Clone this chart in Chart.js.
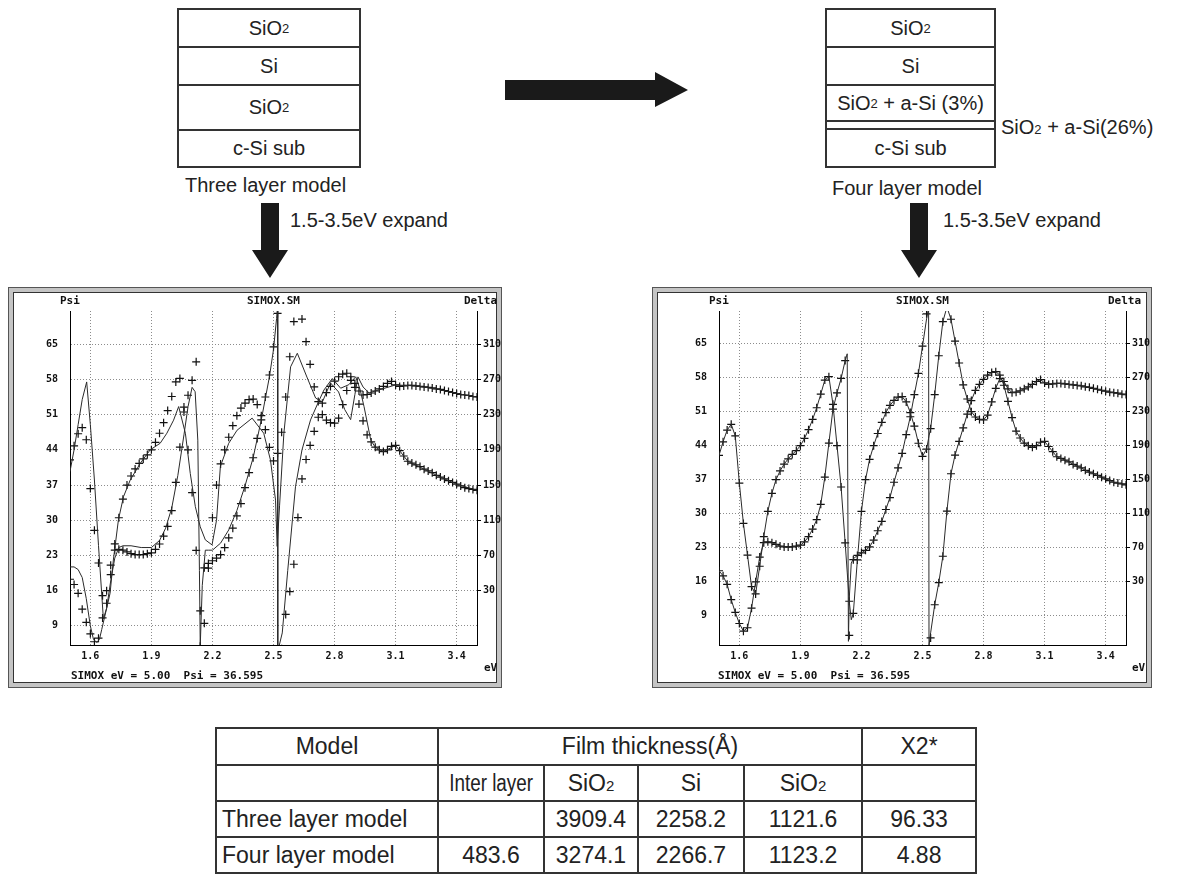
<!DOCTYPE html>
<html>
<head>
<meta charset="utf-8">
<script src="https://cdn.jsdelivr.net/npm/chart.js@4.4.0/dist/chart.umd.min.js"></script>
<style>
body { margin:0; background:#fff; width:1189px; height:879px; position:relative; overflow:hidden;
       font-family:"Liberation Sans", Arial, sans-serif; color:#222; }
.layer { position:absolute; box-sizing:border-box; border:2px solid #333; font-size:20px;
         display:flex; align-items:center; justify-content:center; white-space:nowrap; }
.sub { font-size:13px; }
.cap { position:absolute; font-size:20px; white-space:nowrap; line-height:22px; }
.frame { position:absolute; box-sizing:border-box; border:1px solid #555; background:#c4c4c4; }
.frame .inner { position:absolute; left:4px; top:4px; right:4px; bottom:4px; border:1px solid #333; background:#fff; }
.scr { position:absolute; font-family:"DejaVu Sans Mono", monospace; font-weight:bold; font-size:11px;
       color:#111; white-space:pre; line-height:13px; }
canvas { position:absolute; }
table { position:absolute; border-collapse:collapse; table-layout:fixed; width:760px;
        font-family:"Liberation Sans Narrow","Arial Narrow","Liberation Sans",sans-serif; font-size:23px; color:#222; }
td { border:2px solid #333; text-align:center; padding:0; white-space:nowrap; }
td.l { text-align:left; padding-left:5px; }
td .sub { font-size:15px; }
.squeeze { display:inline-block; transform:scaleX(0.82); }
</style>
</head>
<body>

<!-- layer stacks -->
<div class="layer" style="left:177px;top:8px;width:184px;height:40px">SiO<span class="sub">2</span></div>
<div class="layer" style="left:177px;top:46px;width:184px;height:40px">Si</div>
<div class="layer" style="left:177px;top:84px;width:184px;height:47px">SiO<span class="sub">2</span></div>
<div class="layer" style="left:177px;top:129px;width:184px;height:39px">c-Si sub</div>
<div class="cap" style="left:185px;top:174px">Three layer model</div>

<div class="layer" style="left:825px;top:8px;width:171px;height:40px">SiO<span class="sub">2</span></div>
<div class="layer" style="left:825px;top:46px;width:171px;height:40px">Si</div>
<div class="layer" style="left:825px;top:84px;width:171px;height:38px">SiO<span class="sub">2</span>&nbsp;+ a-Si (3%)</div>
<div class="layer" style="left:825px;top:120px;width:171px;height:10px"></div>
<div class="layer" style="left:825px;top:128px;width:171px;height:40px">c-Si sub</div>
<div class="cap" style="left:1001px;top:116px">SiO<span class="sub">2</span>&nbsp;+ a-Si(26%)</div>
<div class="cap" style="left:832px;top:177px">Four layer model</div>

<svg style="position:absolute;left:0;top:0" width="1189" height="300">
  <polygon points="505,80 655,80 655,72 688,90 655,107 655,100 505,100" fill="#1a1a1a"/>
  <polygon points="261,203 279,203 279,250 288,250 270,278 252,250 261,250" fill="#1a1a1a"/>
  <polygon points="910,203 928,203 928,250 937,250 919,278 901,250 910,250" fill="#1a1a1a"/>
</svg>
<div class="cap" style="left:290px;top:209px">1.5-3.5eV expand</div>
<div class="cap" style="left:943px;top:209px">1.5-3.5eV expand</div>

<!-- spectra -->
<div class="frame" style="left:8px;top:287px;width:494px;height:401px"><div class="inner"></div></div>
<canvas id="chartThree" width="494" height="401" style="left:8px;top:287px"></canvas>
<div class="scr" style="left:60px;top:294px">Psi</div>
<div class="scr" style="left:247px;top:294px">SIMOX.SM</div>
<div class="scr" style="left:464px;top:294px">Delta</div>
<div class="scr" style="left:484px;top:661px">eV</div>
<div class="scr" style="left:71px;top:669px">SIMOX eV = 5.00  Psi = 36.595</div>

<div class="frame" style="left:652px;top:287px;width:500px;height:401px"><div class="inner"></div></div>
<canvas id="chartFour" width="500" height="401" style="left:652px;top:287px"></canvas>
<div class="scr" style="left:709px;top:294px">Psi</div>
<div class="scr" style="left:896px;top:294px">SIMOX.SM</div>
<div class="scr" style="left:1108px;top:294px">Delta</div>
<div class="scr" style="left:1132px;top:661px">eV</div>
<div class="scr" style="left:718px;top:669px">SIMOX eV = 5.00  Psi = 36.595</div>

<!-- results -->
<table style="left:215px;top:727px">
  <colgroup><col style="width:222px"><col style="width:106px"><col style="width:94px"><col style="width:106px"><col style="width:118px"><col style="width:114px"></colgroup>
  <tr style="height:37px"><td>Model</td><td colspan="4">Film thickness(Å)</td><td>X2*</td></tr>
  <tr style="height:36px"><td></td><td><span class="squeeze">Inter layer</span></td><td>SiO<span class="sub">2</span></td><td>Si</td><td>SiO<span class="sub">2</span></td><td></td></tr>
  <tr style="height:36px"><td class="l">Three layer model</td><td></td><td>3909.4</td><td>2258.2</td><td>1121.6</td><td>96.33</td></tr>
  <tr style="height:36px"><td class="l">Four layer model</td><td>483.6</td><td>3274.1</td><td>2266.7</td><td>1123.2</td><td>4.88</td></tr>
</table>

<script>
// eixos
const evTicks = [1.6, 1.9, 2.2, 2.5, 2.8, 3.1, 3.4];
const psiTicks = [9, 16, 23, 30, 37, 44, 51, 58, 65];
const deltaTicks = [30, 70, 110, 150, 190, 230, 270, 310];

// medidas (cruzes), mesmas nos dois gráficos
const evGrid = [1.50,1.52,1.54,1.56,1.58,1.60,1.62,1.64,1.66,1.68,1.70,1.72,1.74,1.76,1.78,1.80,1.82,1.84,1.86,1.88,
  1.90,1.92,1.94,1.96,1.98,2.00,2.02,2.04,2.06,2.08,2.10,2.12,2.14,2.16,2.18,2.20,2.22,2.24,2.26,2.28,
  2.30,2.32,2.34,2.36,2.38,2.40,2.42,2.44,2.46,2.48,2.50,2.52,2.54,2.56,2.58,2.60,2.62,2.64,2.66,2.68,
  2.70,2.72,2.74,2.76,2.78,2.80,2.82,2.84,2.86,2.88,2.90,2.92,2.94,2.96,2.98,3.00,3.02,3.04,3.06,3.08,
  3.10,3.12,3.14,3.16,3.18,3.20,3.22,3.24,3.26,3.28,3.30,3.32,3.34,3.36,3.38,3.40,3.42,3.44,3.46,3.48,3.50];
const deltaMeas = [43,37,27,9,-6,-19,-28,-24,-1,30,59,76,77,76,74,72,71,71,71,72,
  73,77,83,92,103,121,153,193,233,252,269,290,-33,56,61,64,67,71,79,90,
  101,115,129,147,164,181,203,224,250,275,307,345,-36,3,29,60,113,157,179,195,
  211,227,243,255,262,268,273,276,277,273,261,242,223,207,199,193,190,188,190,194,
  195,189,183,177,175,173,171,168,166,164,161,159,157,155,153,151,149,147,146,145,144];
const psiMeas = [42.0,44.8,47.2,48.4,46.0,36.3,28.0,21.5,15.0,13.5,19.2,25.3,30.5,34.2,37.0,38.8,40.2,41.3,42.2,43.0,
  44.0,45.5,47.3,49.4,51.8,54.6,57.5,58.2,52.5,44.0,35.5,24.0,12.0,9.5,20.5,30.5,37.0,41.2,44.0,46.5,
  48.8,50.8,52.3,53.3,54.0,54.1,53.0,50.8,48.0,44.5,41.8,43.3,47.5,54.5,62.5,69.5,72.5,70.0,65.5,61.0,
  56.5,53.6,51.0,49.9,49.4,49.3,50.3,53.0,55.8,57.8,57.2,55.7,54.9,55.0,55.3,55.7,56.1,56.6,57.2,57.6,
  56.9,56.6,56.7,56.8,56.8,56.7,56.6,56.5,56.4,56.3,56.1,56.0,55.8,55.6,55.4,55.2,55.0,54.9,54.8,54.6,54.5];

// modelo de três camadas (linhas do gráfico da esquerda)
const threeDeltaEv = [1.50,1.52,1.54,1.56,1.58,1.60,1.615,1.632,1.645,1.656,1.68,1.70,1.72,1.74,1.76,1.80,1.85,1.90,1.94,1.97,
  2.00,2.03,2.06,2.08,2.10,2.115,2.128,2.136,2.14,2.15,2.165,2.18,2.20,2.24,2.28,2.32,2.36,2.40,2.44,2.48,
  2.50,2.515,2.52,2.521,2.543,2.57,2.608,2.64,2.682,2.72,2.748,2.789,2.83,2.87,2.904,2.925,2.945,2.978,3.00,3.04,
  3.10,3.16,3.24,3.32,3.40,3.50];
const threeDelta = [57,57,54,45,21,-10,-25,-29,-25,-14,10,41,67,79,81,81,79,79,87,101,
  124,161,207,239,261,256,201,53,-33,36,76,76,76,84,99,121,149,181,224,273,
  304,339,353,-39,-18,53,148,190,224,244,258,271,260,264,273,259,239,201,193,188,
  195,177,168,159,151,144];
const threePsiEv = [1.50,1.52,1.54,1.56,1.582,1.60,1.62,1.64,1.664,1.68,1.697,1.713,1.738,1.763,1.796,1.845,1.894,1.943,1.976,2.009,
  2.034,2.067,2.091,2.116,2.14,2.165,2.198,2.22,2.239,2.28,2.321,2.395,2.452,2.485,2.51,2.518,2.53,2.551,2.584,2.617,
  2.666,2.707,2.74,2.78,2.82,2.85,2.879,2.90,2.915,2.94,2.97,3.00,3.10,3.20,3.30,3.40,3.50];
const threePsi = [39.7,44.0,49.0,54.0,57.5,49.0,38.0,25.0,10.4,12.5,15.5,22.1,30.1,34.7,38.0,41.3,44.0,45.3,47.3,49.9,
  52.6,47.3,39.3,32.7,28.7,26.1,25.1,30.0,40.7,45.3,47.9,50.3,47.3,42.0,34.0,24.8,33.0,47.3,60.5,63.2,
  58.3,54.3,53.5,57.3,55.5,52.0,50.0,55.0,58.5,56.5,55.3,55.7,56.9,56.7,56.1,55.2,54.5];

// modelo de quatro camadas (linhas do gráfico da direita)
const fourEv = [1.50,1.52,1.54,1.56,1.58,1.60,1.62,1.64,1.66,1.68,1.70,1.72,1.74,1.76,1.78,1.80,1.82,1.84,1.86,1.88,
  1.90,1.92,1.94,1.96,1.98,2.00,2.02,2.04,2.06,2.08,2.10,2.12,2.13,2.136,2.14,2.15,2.16,2.18,2.20,2.22,
  2.24,2.26,2.28,2.30,2.32,2.34,2.36,2.38,2.40,2.42,2.44,2.46,2.48,2.50,2.52,2.53,2.532,2.54,2.56,2.58,
  2.60,2.62,2.64,2.66,2.68,2.70,2.72,2.74,2.76,2.78,2.80,2.82,2.84,2.86,2.88,2.90,2.92,2.94,2.96,2.98,
  3.00,3.02,3.04,3.06,3.08,3.10,3.12,3.14,3.16,3.18,3.20,3.22,3.24,3.26,3.28,3.30,3.32,3.34,3.36,3.38,
  3.40,3.42,3.44,3.46,3.48,3.50];
const fourDelta = [43,37,27,9,-6,-19,-28,-24,-1,30,59,76,77,76,74,72,71,71,71,72,
  73,77,83,92,103,121,153,193,233,252,269,290,298,-40,10,52,57,61,64,67,
  71,79,90,101,115,129,147,164,181,203,224,250,275,307,339,352,-45,-30,3,29,
  60,113,157,179,195,211,227,243,255,262,268,273,276,277,273,261,242,223,207,199,
  193,190,188,190,194,195,189,183,177,175,173,171,168,166,164,161,159,157,155,153,
  151,149,147,146,145,144];
const fourPsi = [42.0,44.8,47.2,48.4,46.0,36.3,28.0,21.5,15.0,13.5,19.2,25.3,30.5,34.2,37.0,38.8,40.2,41.3,42.2,43.0,
  44.0,45.5,47.3,49.4,51.8,54.6,57.5,58.2,52.5,44.0,35.5,24.0,18.0,14.5,12.0,8.2,9.5,20.5,30.5,37.0,
  41.2,44.0,46.5,48.8,50.8,52.3,53.3,54.0,54.1,53.0,50.8,48.0,44.5,41.8,43.3,45.5,46.0,47.5,54.5,62.5,
  69.5,72.5,70.0,65.5,61.0,56.5,53.6,51.0,49.9,49.4,49.3,50.3,53.0,55.8,57.8,57.2,55.7,54.9,55.0,55.3,
  55.7,56.1,56.6,57.2,57.6,56.9,56.6,56.7,56.8,56.8,56.7,56.6,56.5,56.4,56.3,56.1,56.0,55.8,55.6,55.4,
  55.2,55.0,54.9,54.8,54.6,54.5];

// Delta e Psi compartilham a mesma altura: 16 <-> 30, 65 <-> 310
const toDelta = p => (p - 9) * 40 / 7 - 10;

function pts(xs, ys) {
    return xs.map((x, i) => ({ x: x, y: ys[i] }));
}

const fonteTela = { family: 'DejaVu Sans Mono', size: 10, weight: 'bold' };
const grade = { color: '#8c8c8c', drawTicks: false };
const borda = { color: '#000', width: 1, dash: [1, 2] };

function desenharEspectro(id, psiMin, psiMax, padLeft, y2Width, modDeltaEv, modDelta, modPsiEv, modPsi) {
    const ctx = document.getElementById(id).getContext('2d');
    const linha = { showLine: true, pointRadius: 0, borderColor: '#2a2a2a', borderWidth: 1 };
    const cruz = { showLine: false, pointStyle: 'cross', pointRadius: 4, pointBorderWidth: 1.2,
                   pointBorderColor: '#111', pointBackgroundColor: '#111' };

    return new Chart(ctx, {
        type: 'scatter',
        data: {
            datasets: [
                Object.assign({ data: pts(modDeltaEv, modDelta), yAxisID: 'y2' }, linha),
                Object.assign({ data: pts(modPsiEv, modPsi), yAxisID: 'y' }, linha),
                Object.assign({ data: pts(evGrid, deltaMeas), yAxisID: 'y2' }, cruz),
                Object.assign({ data: pts(evGrid, psiMeas), yAxisID: 'y' }, cruz)
            ]
        },
        options: {
            responsive: false,
            animation: false,
            events: [],
            layout: { padding: { left: padLeft, right: 0, top: 24, bottom: 23 } },
            plugins: { legend: { display: false }, tooltip: { enabled: false } },
            scales: {
                x: {
                    type: 'linear', min: 1.5, max: 3.5,
                    afterBuildTicks: s => { s.ticks = evTicks.map(v => ({ value: v })); },
                    afterFit: s => { s.height = 20; },
                    grid: grade, border: borda,
                    ticks: { font: fonteTela, color: '#111', padding: 5, maxRotation: 0, autoSkip: false,
                             callback: v => v.toFixed(1) }
                },
                y: {
                    position: 'left', min: psiMin, max: psiMax,
                    afterBuildTicks: s => { s.ticks = psiTicks.map(v => ({ value: v })); },
                    afterFit: s => { s.width = 40; },
                    grid: grade, border: borda,
                    ticks: { font: fonteTela, color: '#111', padding: 12, autoSkip: false }
                },
                y2: {
                    position: 'right', min: toDelta(psiMin), max: toDelta(psiMax),
                    afterBuildTicks: s => { s.ticks = deltaTicks.map(v => ({ value: v })); },
                    afterFit: s => { s.width = y2Width; },
                    grid: { drawOnChartArea: false, drawTicks: true, tickLength: 4, tickColor: '#000' },
                    border: { color: '#000', width: 1 },
                    ticks: { font: fonteTela, color: '#111', padding: 2, autoSkip: false }
                }
            }
        }
    });
}

desenharEspectro('chartThree', 5.2, 71.6, 22, 25, threeDeltaEv, threeDelta, threePsiEv, threePsi);
desenharEspectro('chartFour', 3.0, 71.7, 27, 26, fourEv, fourDelta, fourEv, fourPsi);
</script>
</body>
</html>
